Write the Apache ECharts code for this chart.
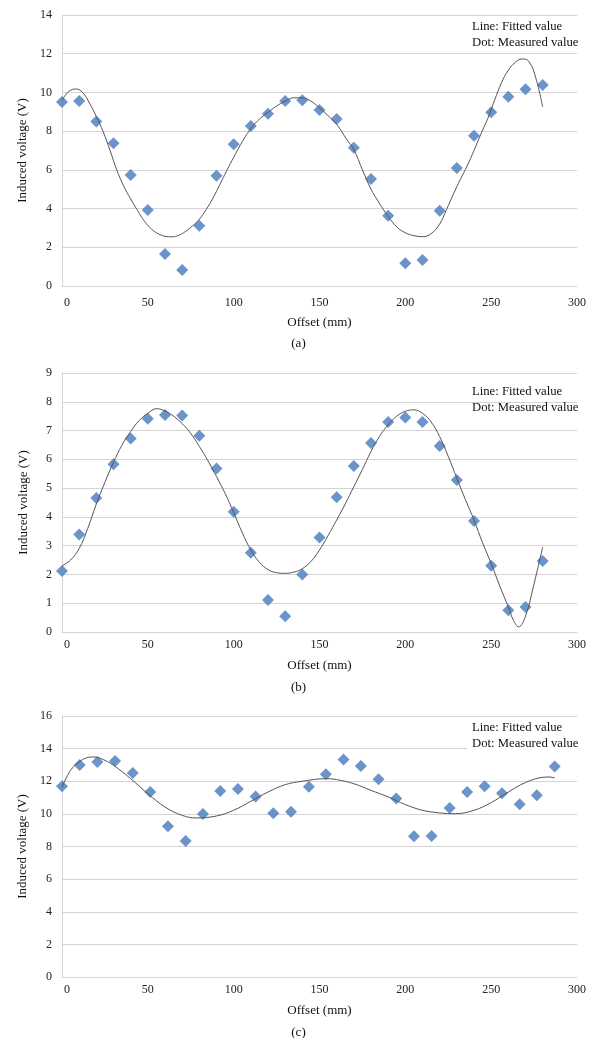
<!DOCTYPE html>
<html>
<head>
<meta charset="utf-8">
<script src="https://cdn.jsdelivr.net/npm/echarts@6/dist/echarts.min.js"></script>
<style>
  html, body { margin: 0; padding: 0; background: #ffffff; }
  #chart { width: 597px; height: 1038px; }
</style>
</head>
<body>
<div id="chart"></div>
<script>
// ---- Data ----
// Chart (a)
const xMeasA = [0,10,20,30,40,50,60,70,80,90,100,110,120,130,140,150,160,170,180,190,200,210,220,230,240,250,260,270,280];
const yMeasA = [9.5,9.56,8.5,7.37,5.73,3.93,1.65,0.83,3.11,5.7,7.32,8.26,8.9,9.56,9.6,9.09,8.63,7.14,5.53,3.63,1.17,1.34,3.89,6.1,7.76,8.97,9.78,10.16,10.38];
const xFitA = [0,4,8,12,16,20,24,28,32,36,40,44,48,52,56,60,64,68,72,76,80,84,88,92,96,100,104,108,112,116,120,125,130,135,140,145,150,155,160,163,166,170,175,180,184,187,190,195,200,205,210,215,220,224,228,232,236,240,244,248,252,256,260,264,268,272,276,280];
const yFitA = [9.6,10.05,10.18,10.0,9.45,8.75,7.97,7.0,5.97,5.15,4.5,3.9,3.35,2.95,2.7,2.57,2.54,2.62,2.82,3.1,3.45,3.95,4.55,5.25,5.97,6.65,7.3,7.88,8.35,8.7,8.97,9.3,9.55,9.72,9.72,9.55,9.2,8.8,8.35,7.97,7.55,7.05,6.0,5.0,4.4,3.98,3.6,3.05,2.75,2.6,2.55,2.7,3.2,3.95,4.75,5.5,6.2,7.0,7.85,8.65,9.6,10.5,11.15,11.55,11.73,11.6,10.75,9.25];
// Chart (b)
const xMeasB = [0,10,20,30,40,50,60,70,80,90,100,110,120,130,140,150,160,170,180,190,200,210,220,230,240,250,260,270,280];
const yMeasB = [2.12,3.39,4.66,5.83,6.72,7.41,7.54,7.52,6.82,5.68,4.18,2.75,1.11,0.55,2.0,3.28,4.68,5.77,6.57,7.3,7.45,7.3,6.46,5.28,3.86,2.3,0.76,0.87,2.47];
const xFitB = [0,5,10,15,20,25,30,35,40,45,50,55,60,65,70,75,80,85,90,95,100,105,110,115,120,125,130,135,140,145,150,155,160,165,170,175,180,185,190,195,200,205,210,215,220,225,230,235,240,245,250,255,260,263,266,270,275,280];
const yFitB = [2.3,2.5,2.9,3.6,4.45,5.2,5.9,6.5,6.97,7.35,7.6,7.76,7.68,7.5,7.24,6.9,6.45,5.95,5.4,4.82,4.15,3.45,2.85,2.42,2.17,2.06,2.04,2.08,2.2,2.45,2.85,3.35,3.89,4.45,5.05,5.65,6.27,6.8,7.2,7.5,7.67,7.72,7.6,7.3,6.79,6.1,5.34,4.6,3.89,3.1,2.38,1.6,0.87,0.4,0.18,0.55,1.68,2.95];
// Chart (c)
const xMeasC = [0,10.3,20.6,30.9,41.2,51.4,61.7,72,82.1,92.2,102.5,112.8,123.1,133.4,143.8,153.7,164,174.1,184.4,194.7,205,215.3,225.8,236,246.2,256.3,266.6,276.6,287];
const yMeasC = [11.69,13.0,13.18,13.24,12.51,11.34,9.24,8.34,9.99,11.4,11.53,11.06,10.04,10.13,11.67,12.43,13.33,12.94,12.12,10.94,8.63,8.65,10.36,11.34,11.69,11.26,10.59,11.14,12.9];
const xFitC = [0,5,10,14,18.6,25,30,40,50,60,70,78,90,100,110,120,130,140,154,160,170,180,190,200,210,220,229,240,250,260,270,280,284,287];
const yFitC = [11.65,12.67,13.18,13.42,13.49,13.28,12.98,12.16,11.24,10.42,9.91,9.75,9.87,10.22,10.77,11.34,11.79,12.0,12.16,12.1,11.85,11.44,11.04,10.57,10.22,10.06,10.01,10.22,10.69,11.34,11.92,12.24,12.26,12.2];
// Axis settings
const yMaxes = [14, 9, 16];
const yIntervals = [2, 1, 2];
const captions = ['(a)', '(b)', '(c)'];
const xTitle = 'Offset (mm)';
const yTitle = 'Induced voltage (V)';
const legendLine1 = 'Line: Fitted value';
const legendLine2 = 'Dot: Measured value';

const zip = (xs, ys) => xs.map((x, i) => [x, ys[i]]);
const measured = [zip(xMeasA, yMeasA), zip(xMeasB, yMeasB), zip(xMeasC, yMeasC)];
const fitted = [zip(xFitA, yFitA), zip(xFitB, yFitB), zip(xFitC, yFitC)];

const FONT = '"Liberation Serif", "Times New Roman", serif';
const GRID_COLOR = '#d4d4d4';
const grids = [
  { left: 62, width: 515, top: 15, height: 271 },
  { left: 62, width: 515, top: 373, height: 259 },
  { left: 62, width: 515, top: 716, height: 261 }
];
const labelMargins = [11, 7, 7];
const nameGaps = [30, 27, 27];

const chart = echarts.init(document.getElementById('chart'), null, { renderer: 'canvas' });

const xAxes = grids.map((g, i) => ({
  type: 'value', gridIndex: i, min: 0, max: 300, interval: 50,
  axisLine: { show: true, lineStyle: { color: GRID_COLOR, width: 1 } },
  axisTick: { show: false },
  splitLine: { show: false },
  axisLabel: {
    color: '#222', fontFamily: FONT, fontSize: 12, margin: labelMargins[i],
    formatter: v => (v === 0 ? '{z|0}' : String(v)),
    rich: { z: { color: '#222', fontFamily: FONT, fontSize: 12, padding: [0, 0, 0, 10] } }
  },
  name: xTitle, nameLocation: 'middle', nameGap: nameGaps[i],
  nameTextStyle: { color: '#111', fontFamily: FONT, fontSize: 13 }
}));
const yAxes = grids.map((g, i) => ({
  type: 'value', gridIndex: i, min: 0, max: yMaxes[i], interval: yIntervals[i],
  axisLine: { show: true, lineStyle: { color: GRID_COLOR, width: 1 } },
  axisTick: { show: false },
  splitLine: { show: true, lineStyle: { color: GRID_COLOR, width: 1 } },
  axisLabel: { color: '#222', fontFamily: FONT, fontSize: 12, margin: 10 },
  name: yTitle, nameLocation: 'middle', nameGap: 32, nameRotate: 90,
  nameTextStyle: { color: '#111', fontFamily: FONT, fontSize: 13 }
}));

const series = [];
for (let i = 0; i < 3; i++) {
  series.push({
    type: 'scatter', xAxisIndex: i, yAxisIndex: i, data: measured[i],
    symbol: 'diamond', symbolSize: 12,
    itemStyle: { color: '#4679bd' }, z: 2, silent: true
  });
  series.push({
    type: 'line', xAxisIndex: i, yAxisIndex: i, data: fitted[i],
    smooth: 0.4, showSymbol: false, symbol: 'none',
    lineStyle: { color: '#555555', width: 1 }, z: 3, silent: true
  });
}

const captionY = [345, 689, 1034];
const legendY = [26, 391, 727];
const graphic = [];
// white box behind the legend text of chart (c)
graphic.push({ type: 'rect', left: 467, top: 720, shape: { width: 119, height: 31 }, style: { fill: '#ffffff' }, z: 50 });
for (let i = 0; i < 3; i++) {
  graphic.push({ type: 'text', left: 'center', top: captionY[i] - 8, style: { text: captions[i], font: '13px ' + FONT, fill: '#111' }, z: 100 });
  graphic.push({ type: 'text', left: 472, top: legendY[i] - 8, style: { text: legendLine1 + '\n' + legendLine2, font: '12.7px ' + FONT, fill: '#111', lineHeight: 16.5 }, z: 100 });
}

chart.setOption({
  animation: false,
  backgroundColor: '#ffffff',
  grid: grids,
  xAxis: xAxes,
  yAxis: yAxes,
  series: series,
  graphic: graphic
});
</script>
</body>
</html>
